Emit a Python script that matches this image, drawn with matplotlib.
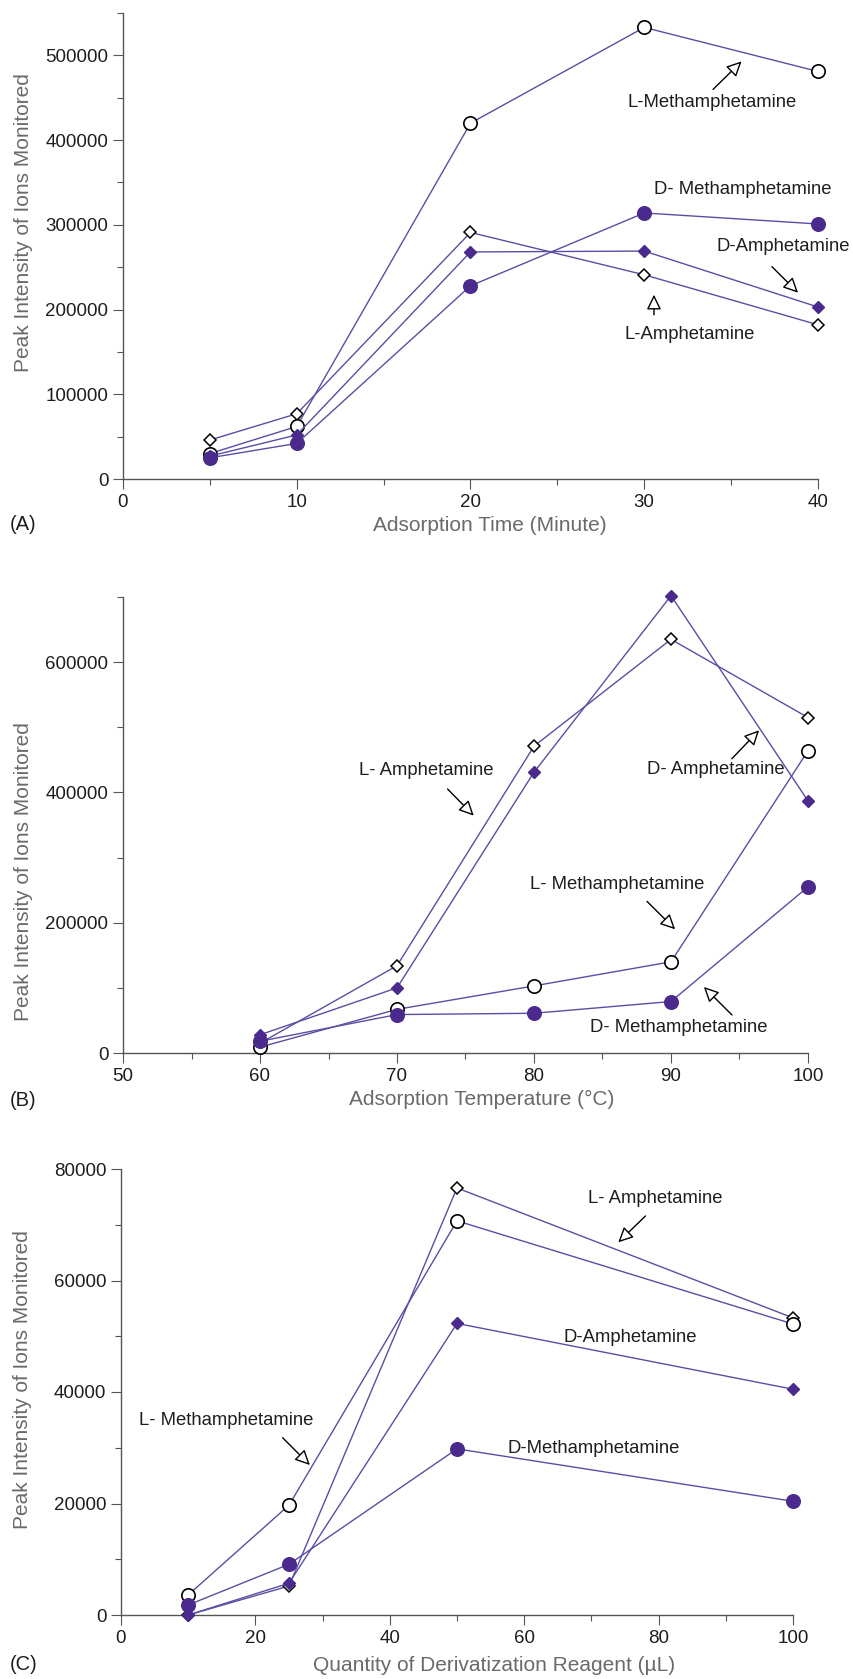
import matplotlib
matplotlib.use('Agg')
import matplotlib.pyplot as plt
from matplotlib.ticker import FixedLocator, MultipleLocator, FuncFormatter

plt.rcParams['font.family'] = ['Liberation Sans', 'DejaVu Sans']

# ---------------- data ----------------
# Panel A: adsorption time (min)
time_min = [5, 10, 20, 30, 40]
a_l_amph = [46000, 77000, 291000, 241000, 182000]
a_l_meth = [30000, 62000, 420000, 533000, 481000]
a_d_amph = [27000, 52000, 268000, 269000, 203000]
a_d_meth = [25000, 42000, 228000, 314000, 301000]

# Panel B: adsorption temperature (°C)
temp_c = [60, 70, 80, 90, 100]
b_l_amph = [15000, 134000, 471000, 635000, 515000]
b_l_meth = [9000, 67000, 103000, 140000, 464000]
b_d_amph = [28000, 100000, 431000, 702000, 387000]
b_d_meth = [18000, 59000, 61000, 79000, 255000]

# Panel C: quantity of derivatization reagent (uL)
reagent_ul = [10, 25, 50, 100]
c_l_amph = [0, 5200, 76600, 53300]
c_l_meth = [3600, 19700, 70700, 52200]
c_d_amph = [0, 5700, 52300, 40500]
c_d_meth = [1800, 9100, 29800, 20400]

a_xticks = [0, 10, 20, 30, 40]
a_yticks = [0, 100000, 200000, 300000, 400000, 500000]
b_xticks = [50, 60, 70, 80, 90, 100]
b_yticks = [0, 200000, 400000, 600000]
c_xticks = [0, 20, 40, 60, 80, 100]
c_yticks = [0, 20000, 40000, 60000, 80000]

# ---------------- styles ----------------
LINE = '#5a4ea3'
FILL = '#4a2a8c'
SPINE = '#555555'
GRAY = '#6a6a6a'
TEXT = '#1e1e1e'

style = {
    'l_amph': dict(marker='D', ms=6.3, mfc='white', mec='black', mew=1.1),
    'l_meth': dict(marker='o', ms=9.6, mfc='white', mec='black', mew=1.2),
    'd_amph': dict(marker='D', ms=6.3, mfc=FILL, mec=FILL, mew=1.0),
    'd_meth': dict(marker='o', ms=9.8, mfc=FILL, mec=FILL, mew=1.0),
}

W, H = 854, 1679
fig = plt.figure(figsize=(W / 100, H / 100), dpi=100)


def rect(left, right, top, bottom):
    return [left / W, 1 - bottom / H, (right - left) / W, (bottom - top) / H]


def panel(r, x, ser, xlim, ylim, xt, xminor, yt, yminor, xlabel, xl_xy,
          ylab_y, tag, tag_y):
    ax = fig.add_axes(r)
    for key in ['l_amph', 'l_meth', 'd_amph', 'd_meth']:
        ax.plot(x, ser[key], color=LINE, lw=1.0, clip_on=False, zorder=3,
                **style[key])
    ax.set_xlim(*xlim)
    ax.set_ylim(*ylim)
    for s in ['top', 'right']:
        ax.spines[s].set_visible(False)
    for s in ['left', 'bottom']:
        ax.spines[s].set_color(SPINE)
        ax.spines[s].set_linewidth(1.0)
    ax.xaxis.set_major_locator(FixedLocator(xt))
    ax.xaxis.set_minor_locator(MultipleLocator(xminor))
    ax.yaxis.set_major_locator(FixedLocator(yt))
    ax.yaxis.set_minor_locator(MultipleLocator(yminor))
    ax.yaxis.set_major_formatter(FuncFormatter(lambda v, p: f'{int(round(v))}'))
    ax.tick_params(which='major', direction='out', length=7.5, width=0.8,
                   color=SPINE, labelsize=13.5, labelcolor=TEXT, pad=3)
    ax.tick_params(which='minor', direction='out', length=4, width=0.8,
                   color=SPINE)
    ax.set_xlabel(xlabel, fontsize=15, color=GRAY, va='center')
    ax.xaxis.set_label_coords(*xl_xy)
    ax.set_ylabel('Peak Intensity of Ions Monitored', fontsize=15, color=GRAY)
    ax.yaxis.set_label_coords(ylab_y[0], ylab_y[1])
    fig.text(10 / W, 1 - tag_y / H, tag, fontsize=14.5, color=TEXT,
             ha='left', va='center')
    return ax


def label(ax, text, x, y):
    ax.text(x, y, text, fontsize=13.3, color=TEXT, ha='center', va='center',
            clip_on=False, zorder=5)


def arrow(ax, tail, tip):
    ax.annotate('', xy=tip, xytext=tail,
                arrowprops=dict(arrowstyle='-|>,head_length=0.45,head_width=0.22',
                                mutation_scale=20, fc='white', ec='black',
                                lw=1.0, shrinkA=0, shrinkB=0),
                annotation_clip=False, zorder=5)


# ---------------- Panel A ----------------
axA = panel(rect(123, 818, 13, 479), time_min,
            dict(l_amph=a_l_amph, l_meth=a_l_meth, d_amph=a_d_amph, d_meth=a_d_meth),
            (0, 40), (0, 550000), a_xticks, 5, a_yticks, 50000,
            'Adsorption Time (Minute)', (0.528, -0.099), (-0.130, 0.55),
            '(A)', 525)
label(axA, 'L-Methamphetamine', 33.9, 444000)
arrow(axA, (33.96, 459800), (35.6, 492900))
label(axA, 'D- Methamphetamine', 35.65, 341600)
label(axA, 'D-Amphetamine', 38.0, 274200)
arrow(axA, (37.35, 250600), (38.85, 219900))
label(axA, 'L-Amphetamine', 32.63, 170200)
arrow(axA, (30.56, 193800), (30.56, 217500))

# ---------------- Panel B ----------------
axB = panel(rect(123, 808, 597, 1053), temp_c,
            dict(l_amph=b_l_amph, l_meth=b_l_meth, d_amph=b_d_amph, d_meth=b_d_meth),
            (50, 100), (0, 700000), b_xticks, 5, b_yticks, 100000,
            'Adsorption Temperature (\u00b0C)', (0.523, -0.103), (-0.132, 0.397),
            '(B)', 1100)
label(axB, 'L- Amphetamine', 72.1, 434300)
arrow(axB, (73.69, 405300), (75.6, 364400))
label(axB, 'D- Amphetamine', 93.25, 434700)
arrow(axB, (94.44, 451700), (96.43, 495400))
label(axB, 'L- Methamphetamine', 86.1, 259100)
arrow(axB, (88.25, 232700), (90.3, 189900))
label(axB, 'D- Methamphetamine', 90.55, 39900)
arrow(axB, (94.45, 58400), (92.4, 101400))

# ---------------- Panel C ----------------
axC = panel(rect(121, 793, 1169, 1615), reagent_ul,
            dict(l_amph=c_l_amph, l_meth=c_l_meth, d_amph=c_d_amph, d_meth=c_d_meth),
            (0, 100), (0, 80000), c_xticks, 10, c_yticks, 10000,
            'Quantity of Derivatization Reagent (\u00b5L)', (0.555, -0.114),
            (-0.132, 0.527), '(C)', 1664)
label(axC, 'L- Amphetamine', 79.5, 74690)
arrow(axC, (78.05, 71580), (74.0, 66850))
label(axC, 'D-Amphetamine', 75.8, 49750)
label(axC, 'D-Methamphetamine', 70.4, 29800)
label(axC, 'L- Methamphetamine', 15.7, 34800)
arrow(axC, (24.05, 31800), (28.1, 26900))

fig.savefig('out.png', dpi=100)
